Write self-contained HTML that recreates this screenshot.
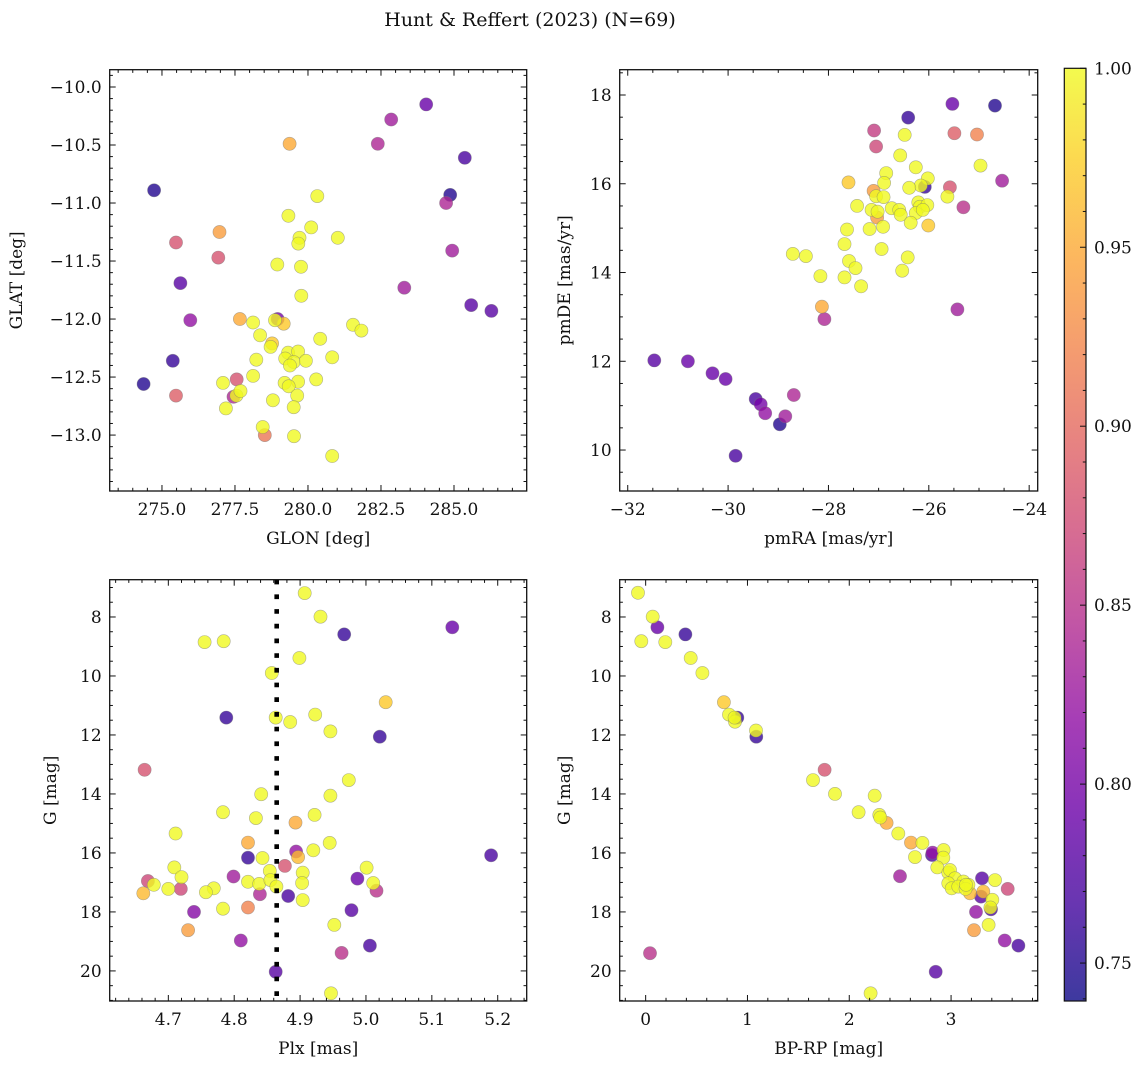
<!DOCTYPE html>
<html><head><meta charset="utf-8">
<style>
html,body{margin:0;padding:0;background:#fff;}
svg{display:block;font-family:"DejaVu Serif","Liberation Serif",serif;}
</style></head>
<body>
<svg id="fig" width="1148" height="1068" viewBox="0 0 1148 1068" xmlns="http://www.w3.org/2000/svg">
<text x="530" y="26" font-size="19" text-anchor="middle" fill="#111">Hunt &amp; Reffert (2023) (N=69)</text>
</svg>
<script>
// ---- data: top-left (GLON vs GLAT)
const glon = [284.05,282.85,279.37,282.39,285.37,274.73,284.87,284.73,280.32,279.33,280.11,276.97,275.48,279.71,279.67,281.02,276.93,284.94,278.95,279.76,275.63,279.77,283.30,285.59,286.28,275.97,277.67,278.96,278.87,279.17,278.12,278.36,281.54,281.83,280.42,278.77,278.72,275.37,278.23,279.32,279.66,279.22,279.51,279.38,279.93,280.83,274.37,275.48,277.09,277.56,278.12,279.20,279.66,279.34,280.28,277.45,277.55,277.69,279.63,278.80,277.19,279.51,278.45,278.52,279.52,280.83];
const glat = [-10.15,-10.28,-10.49,-10.49,-10.61,-10.89,-10.93,-11.00,-10.94,-11.11,-11.21,-11.25,-11.34,-11.30,-11.35,-11.30,-11.47,-11.41,-11.53,-11.55,-11.69,-11.80,-11.73,-11.88,-11.93,-12.01,-12.00,-12.00,-12.01,-12.04,-12.03,-12.14,-12.05,-12.10,-12.17,-12.21,-12.24,-12.36,-12.35,-12.29,-12.28,-12.34,-12.37,-12.40,-12.36,-12.33,-12.56,-12.66,-12.55,-12.52,-12.49,-12.55,-12.54,-12.58,-12.52,-12.67,-12.66,-12.62,-12.66,-12.70,-12.77,-12.76,-12.93,-13.00,-13.01,-13.18];
const probTL = [0.79,0.83,0.95,0.84,0.77,0.75,0.75,0.84,1,1,1,0.94,0.88,1,1,1,0.88,0.83,1,1,0.78,1,0.83,0.78,0.78,0.82,0.95,0.80,1,0.97,1,1,1,1,1,0.97,1,0.76,1,1,1,1,1,1,1,1,0.75,0.89,1,0.88,1,1,1,1,1,0.84,1,1,1,1,1,1,1,0.91,1,1];
// ---- data: top-right (pmRA vs pmDE)
const pmra = [-25.53,-24.68,-26.41,-27.09,-27.05,-25.49,-25.04,-26.48,-26.57,-24.97,-24.54,-26.26,-26.85,-26.89,-27.60,-26.02,-26.08,-26.16,-26.39,-25.58,-27.10,-27.05,-26.90,-25.63,-25.31,-27.43,-27.14,-27.02,-27.03,-26.74,-26.59,-26.56,-26.21,-26.18,-26.03,-26.26,-26.12,-26.36,-26.01,-27.63,-27.18,-26.91,-27.68,-26.94,-28.71,-28.45,-27.59,-27.46,-26.42,-26.53,-28.16,-27.68,-27.35,-28.13,-28.08,-25.43,-31.47,-30.80,-30.31,-30.05,-29.45,-29.35,-29.26,-28.69,-28.86,-28.97,-29.85];
const pmde = [17.80,17.76,17.49,17.20,16.84,17.14,17.11,17.10,16.64,16.41,16.07,16.37,16.24,16.02,16.03,16.12,15.93,15.96,15.91,15.92,15.84,15.72,15.70,15.71,15.47,15.50,15.41,15.37,15.24,15.45,15.41,15.30,15.58,15.48,15.52,15.34,15.41,15.12,15.06,14.97,14.98,15.03,14.64,14.53,14.42,14.37,14.26,14.10,14.34,14.04,13.92,13.89,13.69,13.23,12.95,13.17,12.02,12.00,11.73,11.60,11.15,11.03,10.83,11.24,10.76,10.58,9.87];
const probTR = [0.79,0.75,0.76,0.86,0.87,0.89,0.92,1,1,1,0.83,1,1,1,0.97,1,0.76,1,1,0.88,0.94,1,1,1,0.85,1,1,1,0.94,1,1,1,1,1,1,1,1,1,0.97,1,1,1,1,1,1,1,1,1,1,1,1,1,1,0.95,0.84,0.83,0.78,0.79,0.79,0.79,0.77,0.80,0.82,0.84,0.83,0.75,0.77];
// ---- data: bottom-left (Plx vs G)
const plx = [4.907,4.931,4.967,5.131,4.755,4.784,4.899,4.857,5.030,4.788,4.863,4.885,4.923,4.946,5.021,4.664,4.974,4.841,4.946,4.783,4.833,4.922,4.893,4.711,4.821,4.945,4.894,4.920,4.897,5.190,4.821,4.843,4.877,4.709,4.854,4.904,5.001,4.720,4.799,4.987,4.669,4.678,4.821,4.838,4.855,4.864,4.903,5.011,4.700,4.719,4.769,4.757,5.016,4.662,4.839,4.882,4.904,4.783,4.821,4.739,4.978,4.952,4.730,4.810,5.006,4.963,4.863,4.947];
const gBL = [7.19,7.99,8.59,8.35,8.85,8.82,9.39,9.90,10.89,11.41,11.41,11.56,11.31,11.88,12.06,13.18,13.53,14.01,14.06,14.62,14.82,14.71,14.97,15.34,15.65,15.66,15.95,15.91,16.14,16.08,16.16,16.17,16.44,16.49,16.61,16.67,16.50,16.82,16.80,16.87,16.95,17.08,16.98,17.05,16.92,17.14,17.02,17.02,17.22,17.22,17.20,17.33,17.28,17.37,17.40,17.46,17.60,17.89,17.85,18.00,17.94,18.44,18.62,18.97,19.14,19.39,20.03,20.76];
const probBL = [1,1,0.76,0.79,1,1,1,1,0.97,0.76,1,1,1,1,0.76,0.88,1,1,1,1,1,1,0.95,1,0.95,1,0.82,1,0.96,0.77,0.76,1,0.88,1,1,1,1,1,0.83,0.79,0.87,1,1,1,1,1,1,1,1,0.87,1,1,0.85,0.96,0.84,0.77,1,1,0.92,0.81,0.78,1,0.94,0.82,0.77,0.85,0.78,1];
const plxRef = [4.8645];
// ---- data: bottom-right (BP-RP vs G)
const bprp = [-0.075,0.069,0.115,-0.043,0.193,0.390,0.442,0.557,0.769,0.819,0.900,0.878,0.874,1.087,1.084,1.758,1.644,1.860,2.250,2.092,2.295,2.305,2.367,2.482,2.606,2.718,2.927,2.813,2.819,2.646,2.924,2.498,2.865,2.973,2.990,3.039,3.304,3.432,2.973,3.121,3.170,3.006,3.071,3.143,3.556,3.186,3.294,3.317,3.405,3.392,3.386,3.245,3.369,3.225,3.527,3.661,0.043,2.849,2.210,3.147];
const gBR = [7.18,7.99,8.35,8.82,8.85,8.59,9.39,9.90,10.89,11.31,11.41,11.55,11.41,12.06,11.85,13.18,13.53,14.00,14.06,14.62,14.71,14.80,14.98,15.34,15.65,15.66,15.90,16.07,15.99,16.14,16.16,16.79,16.49,16.67,16.58,16.86,16.86,16.92,17.03,16.97,17.08,17.20,17.14,17.22,17.22,17.37,17.48,17.31,17.59,17.91,17.85,18.00,18.44,18.62,18.97,19.14,19.40,20.03,20.76,17.08];
const probBR = [1,1,0.79,1,1,0.76,1,1,0.97,1,0.76,1,1,0.76,1,0.88,1,1,1,1,1,1,0.95,1,0.95,1,1,0.77,0.82,1,1,0.83,1,1,1,1,0.78,1,1,1,1,1,1,1,0.87,0.96,0.78,0.96,1,0.77,1,0.82,1,0.94,0.82,0.77,0.85,0.78,1,1];
// ---- colorbar
const cbTicks = [0.75,0.80,0.85,0.90,0.95,1.00];
const cbMin = 0.7394, cbMax = 1.0;

const NS = "http://www.w3.org/2000/svg";
const svg = document.getElementById('fig');
const FS = 17;
function mk(tag, attrs, parent){const e=document.createElementNS(NS,tag);for(const k in attrs)e.setAttribute(k,attrs[k]);(parent||svg).appendChild(e);return e;}

const plasma = [[13,8,135],[65,4,157],[106,0,168],[143,13,164],[177,42,144],[204,71,120],[225,100,98],[242,132,75],[252,166,54],[252,206,37],[240,249,33]];
function cmap(t){t=Math.max(0,Math.min(1,t));const s=t*10;const i=Math.min(9,Math.floor(s));const f=s-i;const a=plasma[i],b=plasma[i+1];
 return 'rgb('+[0,1,2].map(k=>Math.round(a[k]+(b[k]-a[k])*f)).join(',')+')';}
function fmt(v,d){const s=Math.abs(v).toFixed(d);return (v<-1e-9?'\u2212':'')+s;}

function panel(cfg){
 const {L,R,T,B,x,y,name} = cfg;
 const sx = v => L + (v - x.min)/(x.max - x.min)*(R-L);
 const sy = y.inv ? (v => T + (v - y.min)/(y.max - y.min)*(B-T)) : (v => B - (v - y.min)/(y.max - y.min)*(B-T));
 const g = mk('g',{});
 
 
 const idx = cfg.xs.map((_,i)=>i).sort((a,b)=>cfg.ps[a]-cfg.ps[b]);
 const pg = mk('g',{},g);
 
 
 idx.forEach(i=>{
  const c = mk('circle',{cx:sx(cfg.xs[i]).toFixed(1),cy:sy(cfg.ys[i]).toFixed(1),r:6.6,fill:cmap((cfg.ps[i]-cbMin)/(cbMax-cbMin)),'fill-opacity':0.8,stroke:'#777','stroke-opacity':0.55,'stroke-width':0.6},pg);
  
  
 });
 if(cfg.extra) cfg.extra(g,sx,sy);
 const fr = mk('rect',{x:L,y:T,width:R-L,height:B-T,fill:'none',stroke:'#111','stroke-width':1.3},g);
 
 
 const tk = mk('g',{stroke:'#111','stroke-width':1},g);
 const eps=1e-6;
 const start=(a,st)=>Math.ceil((a-eps)/st)*st;
 for(let v=start(x.min,x.minor); v<=x.max+eps; v+=x.minor){const px=sx(v);const isMaj=Math.abs(v/x.major-Math.round(v/x.major))<1e-4;const l=isMaj?6:3.2;
  mk('line',{x1:px,x2:px,y1:B,y2:B-l},tk);mk('line',{x1:px,x2:px,y1:T,y2:T+l},tk);}
 for(let v=start(y.min,y.minor); v<=y.max+eps; v+=y.minor){const py=sy(v);const isMaj=Math.abs(v/y.major-Math.round(v/y.major))<1e-4;const l=isMaj?6:3.2;
  mk('line',{y1:py,y2:py,x1:L,x2:L+l},tk);mk('line',{y1:py,y2:py,x1:R,x2:R-l},tk);}
 const xl = mk('g',{},g);
 
 
 for(let v=start(x.min,x.major); v<=x.max+eps; v+=x.major){
  const t=mk('text',{x:sx(v),y:B+24,'font-size':FS,'text-anchor':'middle',fill:'#111'},xl);t.textContent=fmt(v,x.dec);}
 const yl = mk('g',{},g);
 
 
 for(let v=start(y.min,y.major); v<=y.max+eps; v+=y.major){
  const t=mk('text',{x:L-8,y:sy(v)+6,'font-size':FS,'text-anchor':'end',fill:'#111'},yl);t.textContent=fmt(v,y.dec);}
 const xt = mk('text',{x:(L+R)/2,y:B+53,'font-size':FS,'text-anchor':'middle',fill:'#111'},g);
 xt.textContent=cfg.xlabel;
 
 
 const yt = mk('text',{x:0,y:0,'font-size':FS,'text-anchor':'middle',fill:'#111',transform:'translate('+cfg.ylx+','+((T+B)/2)+') rotate(-90)'},g);
 yt.textContent=cfg.ylabel;
 
 
}

panel({name:'glon-glat-panel',L:109.7,R:526.7,T:69.7,B:491,x:{min:273.21,max:287.49,major:2.5,minor:0.5,dec:1},y:{min:-13.482,max:-9.851,major:0.5,minor:0.1,dec:1},xs:glon,ys:glat,ps:probTL,xlabel:'GLON [deg]',ylabel:'GLAT [deg]',ylx:22});
panel({name:'proper-motion-panel',L:619.7,R:1037.7,T:69.7,B:491,x:{min:-32.16,max:-23.83,major:2,minor:0.5,dec:0},y:{min:9.077,max:18.57,major:2,minor:0.5,dec:0},xs:pmra,ys:pmde,ps:probTR,xlabel:'pmRA [mas/yr]',ylabel:'pmDE [mas/yr]',ylx:570});
panel({name:'parallax-panel',L:109.7,R:526.7,T:579.7,B:1001,x:{min:4.611,max:5.244,major:0.1,minor:0.02,dec:1},y:{min:6.736,max:21.02,major:2,minor:0.5,dec:0,inv:true},xs:plx,ys:gBL,ps:probBL,xlabel:'Plx [mas]',ylabel:'G [mag]',ylx:56,
 extra:(g,sx,sy)=>{const ln=mk('line',{x1:sx(plxRef[0]),x2:sx(plxRef[0]),y1:579.7,y2:1001,stroke:'#000','stroke-width':4.6,'stroke-dasharray':'4.7 10'},g);
  
  }});
panel({name:'cmd-panel',L:619.7,R:1037.7,T:579.7,B:1001,x:{min:-0.255,max:3.851,major:1,minor:0.2,dec:0},y:{min:6.736,max:21.02,major:2,minor:0.5,dec:0,inv:true},xs:bprp,ys:gBR,ps:probBR,xlabel:'BP-RP [mag]',ylabel:'G [mag]',ylx:570});

(function(){
 const L=1064.3,R=1086,T=68.3,B=1001;
 const cb=mk('g',{});
 
 
 const defs=mk('defs',{},cb);
 const lg=mk('linearGradient',{id:'cbg',x1:0,y1:1,x2:0,y2:0},defs);
 for(let k=0;k<=10;k++){mk('stop',{offset:k/10,'stop-color':cmap(k/10)},lg);}
 mk('rect',{x:L,y:T,width:R-L,height:B-T,fill:'url(#cbg)','fill-opacity':0.8},cb);
 mk('rect',{x:L,y:T,width:R-L,height:B-T,fill:'none',stroke:'#111','stroke-width':1.2},cb);
 const sy=v=>B-(v-cbMin)/(cbMax-cbMin)*(B-T);
 for(let v=0.74; v<=1.0001; v+=0.01){const py=sy(v);const maj=Math.abs(v*20-Math.round(v*20))<1e-4;
  mk('line',{x1:R,x2:R-(maj?6:3.2),y1:py,y2:py,stroke:'#111','stroke-width':1},cb);}
 cbTicks.forEach(v=>{const t=mk('text',{x:R+8,y:sy(v)+6,'font-size':FS,fill:'#111'},cb);t.textContent=v.toFixed(2);
  
  });
})();
</script>
</body></html>
